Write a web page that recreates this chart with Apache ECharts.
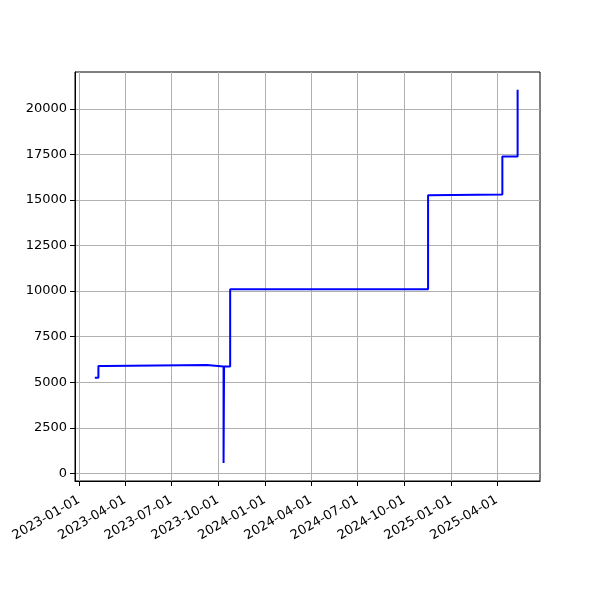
<!DOCTYPE html>
<html>
<head>
<meta charset="utf-8">
<script src="https://cdn.jsdelivr.net/npm/echarts@6/dist/echarts.min.js"></script>
<style>html,body{margin:0;padding:0;background:#fff;}#c{width:600px;height:600px;}</style>
</head>
<body>
<div id="c"></div>
<script>
// Data (value holds from its date until the next date)
const dates = ['2023-02-01','2023-02-08','2023-02-21','2023-09-09','2023-10-12','2023-10-13','2023-10-25','2024-11-17','2024-11-20','2025-04-12','2025-05-12','2025-05-13'];
const values = [5250, 5895, 5950, 5860, 570, 5860, 10100, 15260, 15300, 17380, 21050, 21050];
const xTickLabels = ['2023-01-01','2023-04-01','2023-07-01','2023-10-01','2024-01-01','2024-04-01','2024-07-01','2024-10-01','2025-01-01','2025-04-01'];
const yTickValues = [0, 2500, 5000, 7500, 10000, 12500, 15000, 17500, 20000];
const xMinDate = '2022-12-24';
const xMaxDate = '2025-06-25';
const yMin = -420, yMax = 22020;

function ts(s){ const p = s.split('-').map(Number); return new Date(p[0], p[1]-1, p[2]).getTime(); }
function fmt(v){ const d = new Date(v); const p = n => (n<10?'0':'')+n; return d.getFullYear()+'-'+p(d.getMonth()+1)+'-'+p(d.getDate()); }

// step series: at each change date the previous value is held, then the new value starts
const seriesData = [];
dates.forEach((d, i) => {
  if (i > 0) seriesData.push([ts(d), values[i-1]]);
  seriesData.push([ts(d), values[i]]);
});
const xTicks = xTickLabels.map(ts);

const chart = echarts.init(document.getElementById('c'), null, {renderer:'canvas'});
const font = 'DejaVu Sans';
chart.setOption({
  backgroundColor: '#fff',
  animation: false,
  grid: {left: 75, right: 60, top: 72, bottom: 119, show: true, borderColor: '#000', borderWidth: 1, backgroundColor: 'transparent', containLabel: false},
  xAxis: {
    type: 'value', min: ts(xMinDate), max: ts(xMaxDate), scale: true,
    axisLine: {show: true, onZero: false, lineStyle: {color: '#000', width: 1}},
    axisTick: {show: true, length: 5, lineStyle: {color: '#000', width: 1}, customValues: xTicks},
    axisLabel: {show: true, customValues: xTicks, rotate: 30, margin: 18, color: '#000', fontFamily: font, fontSize: 13,
      formatter: function(v){ return fmt(v); }},
    splitLine: {show: true, lineStyle: {color: '#b0b0b0', width: 1}}
  },
  yAxis: {
    type: 'value', min: yMin, max: yMax,
    axisLine: {show: true, onZero: false, lineStyle: {color: '#000', width: 1}},
    axisTick: {show: true, length: 5, lineStyle: {color: '#000', width: 1}, customValues: yTickValues},
    axisLabel: {show: true, customValues: yTickValues, margin: 8, color: '#000', fontFamily: font, fontSize: 13,
      formatter: function(v){ return String(v); }},
    splitLine: {show: true, lineStyle: {color: '#b0b0b0', width: 1}}
  },
  series: [{
    type: 'line', data: seriesData, showSymbol: false, symbol: 'none', sampling: null,
    lineStyle: {color: '#0000ff', width: 2}, itemStyle: {color: '#0000ff'}
  }]
});
</script>
</body>
</html>
